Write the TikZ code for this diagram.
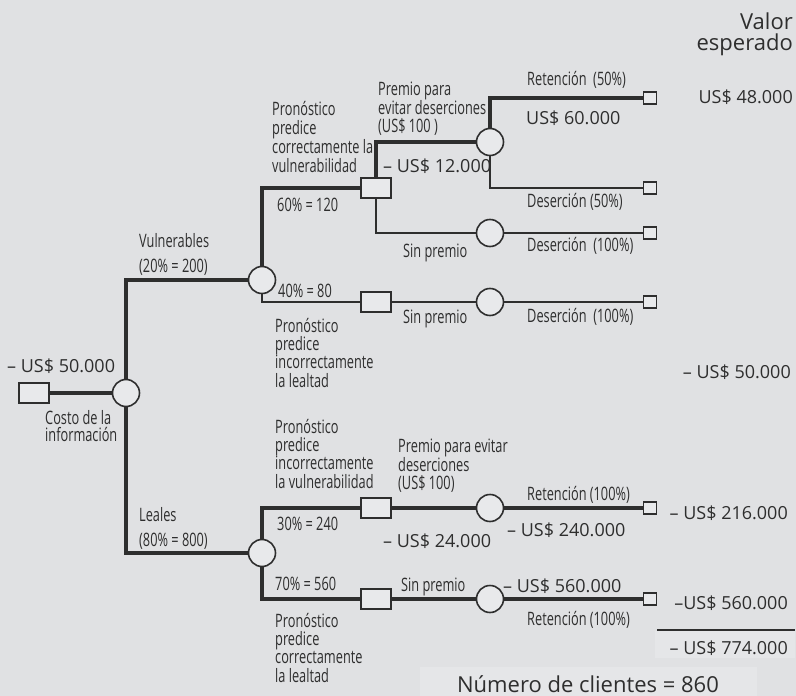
\documentclass[tikz,border=0pt]{standalone}
\usepackage{fontspec}
\setmainfont{Open Sans}
\newfontfamily\condfont{Open Sans}[FakeStretch=0.69]
\definecolor{bg}{HTML}{E0E1E3}
\definecolor{bglite}{HTML}{E5E6E8}
\definecolor{nodefill}{HTML}{E8E9EB}
\definecolor{ink}{HTML}{2E2E2E}
\tikzset{
  decbox/.style={draw=ink, line width=1.6pt, fill=nodefill, minimum width=30pt, minimum height=20pt, inner sep=0pt},
  chance/.style={circle, draw=ink, line width=1.6pt, fill=nodefill, minimum size=27pt, inner sep=0pt},
  endbox/.style={draw=ink, line width=1.3pt, fill=nodefill, minimum width=13pt, minimum height=12pt, inner sep=0pt},
  heavy/.style={draw=ink, line width=4.5pt},
  light/.style={draw=ink, line width=1.3pt},
  lbl/.style={font=\condfont\fontsize{18.5}{18.3}\selectfont, text=ink, inner sep=0pt, anchor=base west, align=left},
  val/.style={font=\fontsize{18}{20}\selectfont, text=ink, inner sep=0pt, anchor=base west},
}
\begin{document}
\begin{tikzpicture}[x=1pt, y=-1pt]
  % page
  \fill[bg] (0,0) rectangle (796,696);
  \useasboundingbox (0,0) rectangle (796,696);
  \fill[bglite] (655,631) rectangle (795,658);
  \fill[bglite] (420,667) rectangle (757,696);

  % connectors (drawn first, nodes cover their ends)
  \coordinate (p0) at (34,393);
  \coordinate (pc0) at (126,393);
  \coordinate (pv) at (262,280);
  \coordinate (pl) at (262,553);
  \coordinate (ps1) at (376,188);
  \coordinate (ps2) at (376,302);
  \coordinate (ps3) at (376,508);
  \coordinate (ps4) at (376,599);
  \coordinate (pc11) at (490,142);
  \coordinate (pc12) at (490,233);
  \coordinate (pc2) at (490,302);
  \coordinate (pc3) at (490,508);
  \coordinate (pc4) at (490,599);
  \coordinate (pt1) at (650,98);
  \coordinate (pt2) at (650,188);
  \coordinate (pt3) at (650,233);
  \coordinate (pt4) at (650,302);
  \coordinate (pt5) at (650,508);
  \coordinate (pt6) at (650,599);

  \draw[heavy] (p0) -- (pc0);
  \draw[heavy] (pc0) |- (pv);
  \draw[heavy] (pc0) |- (pl);
  \draw[heavy] (pv) |- (ps1);
  \draw[light] (pv) |- (ps2);
  \draw[heavy] (ps1) |- (pc11);
  \draw[light] (ps1) |- (pc12);
  \draw[heavy] (pc11) |- (pt1);
  \draw[light] (pc11) |- (pt2);
  \draw[light] (pc12) -- (pt3);
  \draw[light] (ps2) -- (pc2) -- (pt4);
  \draw[heavy] (pl) |- (ps3);
  \draw[heavy] (pl) |- (ps4);
  \draw[heavy] (ps3) -- (pc3) -- (pt5);
  \draw[heavy] (ps4) -- (pc4) -- (pt6);

  % nodes
  \node[decbox] (d0) at (p0) {};
  \node[chance] (c0) at (pc0) {};
  \node[chance] (cv) at (pv) {};
  \node[chance] (cl) at (pl) {};
  \node[decbox] (s1) at (ps1) {};
  \node[decbox] (s2) at (ps2) {};
  \node[decbox] (s3) at (ps3) {};
  \node[decbox] (s4) at (ps4) {};
  \node[chance] (c11) at (pc11) {};
  \node[chance] (c12) at (pc12) {};
  \node[chance] (c2) at (pc2) {};
  \node[chance] (c3) at (pc3) {};
  \node[chance] (c4) at (pc4) {};
  \node[endbox] (t1) at (pt1) {};
  \node[endbox] (t2) at (pt2) {};
  \node[endbox] (t3) at (pt3) {};
  \node[endbox] (t4) at (pt4) {};
  \node[endbox] (t5) at (pt5) {};
  \node[endbox] (t6) at (pt6) {};

  % heading (base = last line)
  \node[font=\fontsize{22}{21}\selectfont, text=ink, inner sep=0pt, anchor=base east, align=right] (hd) at (793,50) {Valor\\esperado};

  % labels of the branches (multi-line ones are placed by their last line)
  \node[lbl] (l1) at (272,172) {Pronóstico\\predice\\correctamente la\\vulnerabilidad};
  \node[lbl] (l2) at (277,211) {60\% = 120};
  \node[lbl] (l3) at (139,247) {Vulnerables};
  \node[lbl] (l4) at (139,272) {(20\% = 200)};
  \node[lbl] (l5) at (278,297) {40\% = 80};
  \node[lbl] (l6) at (275,387) {Pronóstico\\predice\\incorrectamente\\la lealtad};
  \node[lbl] (l7) at (45,441) {Costo de la\\[-1.3pt]información};
  \node[lbl] (l8) at (275,488) {Pronóstico\\predice\\incorrectamente\\la vulnerabilidad};
  \node[lbl] (l9) at (139,521) {Leales};
  \node[lbl] (l10) at (139,546) {(80\% = 800)};
  \node[lbl] (l11) at (277,530) {30\% = 240};
  \node[lbl] (l12) at (275,590) {70\% = 560};
  \node[lbl] (l13) at (275,682) {Pronóstico\\predice\\correctamente\\la lealtad};

  \node[lbl] (l14) at (378,132) {Premio para\\[-0.8pt]evitar deserciones\\[-0.8pt](US\$ 100 )};
  \node[lbl] (l15) at (403,257) {Sin premio};
  \node[lbl] (l16) at (403,323) {Sin premio};
  \node[lbl] (l17) at (398,489) {Premio para evitar\\[-0.8pt]deserciones\\[-0.8pt](US\$ 100)};
  \node[lbl] (l18) at (401,591) {Sin premio};

  \node[lbl] (l19) at (527,85) {Retención~~(50\%)};
  \node[lbl] (l20) at (527,207) {Deserción (50\%)};
  \node[lbl] (l21) at (527,251) {Deserción~~(100\%)};
  \node[lbl] (l22) at (527,322) {Deserción~~(100\%)};
  \node[lbl] (l23) at (527,500) {Retención (100\%)};
  \node[lbl] (l24) at (527,625) {Retención (100\%)};

  % amounts
  \node[val] (v1) at (526,124) {US\$ 60.000};
  \node[val] (v2) at (383,172) {– US\$ 12.000};
  \node[val] (v3) at (7,372) {– US\$ 50.000};
  \node[val] (v4) at (507,536) {– US\$ 240.000};
  \node[val] (v5) at (383,547) {– US\$ 24.000};
  \node[val] (v6) at (503,592) {– US\$ 560.000};

  % expected values
  \node[val, anchor=base east] (e1) at (793,103) {US\$ 48.000};
  \node[val, anchor=base east] (e2) at (791,378) {– US\$ 50.000};
  \node[val, anchor=base east] (e3) at (788,519) {– US\$ 216.000};
  \node[val, anchor=base east] (e4) at (788,609) {–US\$ 560.000};
  \coordinate (r0) at (657,630);
  \coordinate (r1) at (795,630);
  \draw[ink, line width=2pt] (r0) -- (r1);
  \node[val, anchor=base east] (e5) at (788,654) {– US\$ 774.000};

  \node[font=\fontsize{22}{26}\selectfont, text=ink, inner sep=0pt, anchor=base] (nc) at (588,692) {Número de clientes = 860};
\end{tikzpicture}
\end{document}
